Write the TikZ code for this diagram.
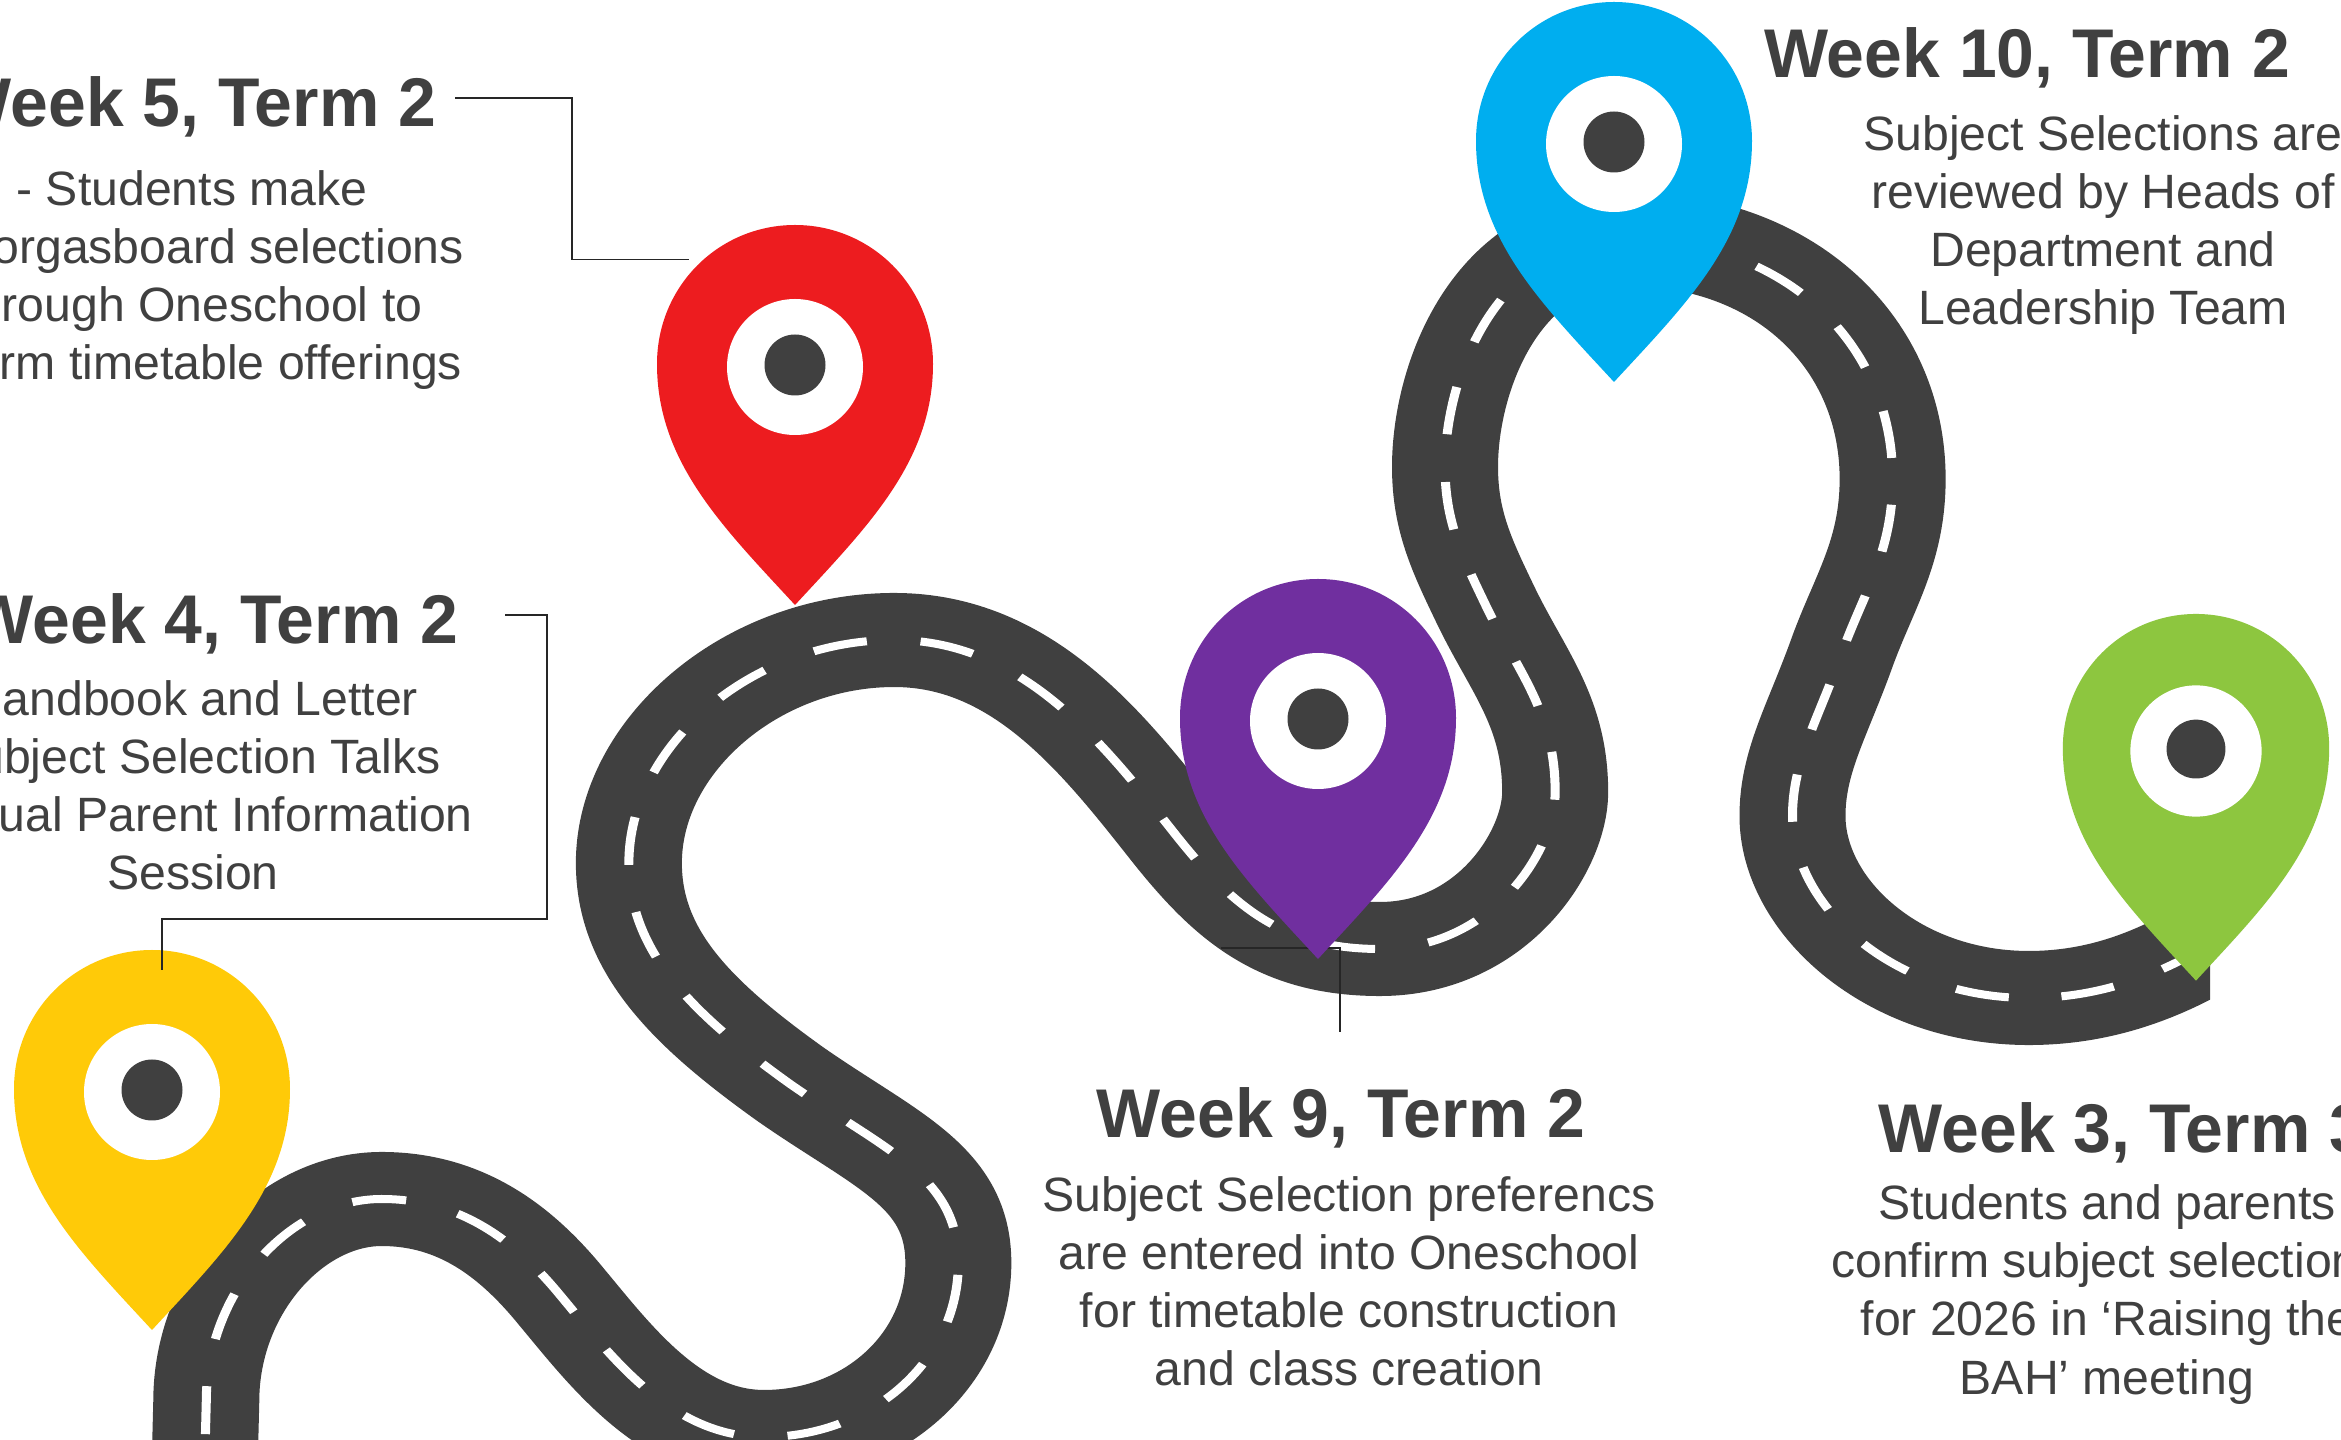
\documentclass[tikz,border=0pt]{standalone}
\usepackage{fontspec}
\newfontfamily\bodyf{Liberation Sans}
\newfontfamily\titlef[FakeStretch=0.985]{Liberation Sans Bold}
\definecolor{ink}{HTML}{404040}
\definecolor{pinred}{HTML}{ED1C1F}
\definecolor{pinyellow}{HTML}{FFCA08}
\definecolor{pinpurple}{HTML}{702F9F}
\definecolor{pinblue}{HTML}{00AEEF}
\definecolor{pingreen}{HTML}{8DC63F}
\tikzset{
  titletext/.style={text=ink,anchor=base,inner sep=0pt,font=\titlef\fontsize{19.6pt}{23pt}\selectfont},
  bodytext/.style={text=ink,anchor=base,inner sep=0pt,align=center,font=\bodyf\fontsize{13.7pt}{16.5pt}\selectfont},
  leader/.style={draw=black!85,line width=0.015cm},
  roadline/.style={draw=ink,line width=0.94cm,line join=round},
  dashline/.style={draw=white,line width=0.08cm}
}
\newcommand{\spineA}{(204,1480) -- (206,1400)
  .. controls (206,1290) and (290,1198) .. (381,1198)
  .. controls (460,1198) and (515,1240) .. (560,1295)
  .. controls (610,1355) and (670,1436) .. (763,1436)
  .. controls (870,1436) and (957,1360) .. (957,1262)
  .. controls (957,1175) and (885,1150) .. (789,1083)
  .. controls (690,1012) and (628,950) .. (628,862)
  .. controls (628,745) and (750,639) .. (893,639)
  .. controls (1020,639) and (1100,740) .. (1171,830)
  .. controls (1230,905) and (1280,948) .. (1378,948)
  .. controls (1490,948) and (1553,850) .. (1553,791)
  .. controls (1553,710) and (1515,670) .. (1483,603)
  .. controls (1460,555) and (1443,520) .. (1443,466)
  .. controls (1443,375) and (1495,238) .. (1625,238)}
\newcommand{\spineB}{(1625,238)
  .. controls (1780,238) and (1890,340) .. (1890,478)
  .. controls (1890,550) and (1862,590) .. (1840,650)
  .. controls (1815,720) and (1790,760) .. (1790,815)
  .. controls (1790,905) and (1890,997) .. (2026,997)
  .. controls (2110,997) and (2180,965) .. (2250,915)}
% #1 name, #2 centre of the white disc, #3 colour, #4 scale
\newcommand{\mappin}[4]{%
  \begin{scope}[shift={#2},scale=#4]
    \fill[#3] (0,238) .. controls (-72,160) and (-138,95) .. (-138,-3)
      .. controls (-138,-81) and (-76,-142) .. (0,-142)
      .. controls (76,-142) and (138,-81) .. (138,-3)
      .. controls (138,95) and (72,160) .. (0,238) -- cycle;
    \fill[white] (0,0) circle [radius=68];
    \fill[ink] (0,-2) circle [radius=30.5];
    \coordinate (#1) at (0,0);
  \end{scope}}
\begin{document}
\begin{tikzpicture}[x=0.01cm,y=-0.01cm]
\useasboundingbox (0,0) rectangle (2341,1440);
\fill[white] (0,0) rectangle (2341,1440);
\clip (0,0) rectangle (2341,1440);
\begin{scope}[yshift=-0.01cm]
% road
\begin{scope}
  \clip (0,0) rectangle (2210,1440);
  \begin{scope}[transform canvas={xscale=1.127},x=0.008873cm]
    \draw[roadline] \spineA -- \spineB;
    \draw[dashline,dash pattern=on 0.48cm off 0.478cm,dash phase=0.49cm] \spineA;
    \draw[dashline,dash pattern=on 0.475cm off 0.468cm,dash phase=0.696cm] \spineB;
  \end{scope}
\end{scope}
% leader of week 9 runs beneath the purple pin
\coordinate (l9a) at (1221,947);
\coordinate (l9b) at (1340,947);
\coordinate (l9c) at (1340,1031);
\draw[leader] (l9a) -- (l9b) -- (l9c);
% pins
\mappin{pinR}{(795,366)}{pinred}{1}
\mappin{pinY}{(152,1091)}{pinyellow}{1}
\mappin{pinP}{(1318,720)}{pinpurple}{1}
\mappin{pinB}{(1614,143)}{pinblue}{1}
\mappin{pinG}{(2196,750)}{pingreen}{0.965}
% leaders
\coordinate (l5a) at (455,97);
\coordinate (l5b) at (572,97);
\coordinate (l5c) at (572,258.5);
\coordinate (l5d) at (689,258.5);
\draw[leader] (l5a) -- (l5b) -- (l5c) -- (l5d);
\coordinate (l4a) at (505,614);
\coordinate (l4b) at (547,614);
\coordinate (l4c) at (547,918);
\coordinate (l4d) at (162,918);
\coordinate (l4e) at (162,969);
\draw[leader] (l4a) -- (l4b) -- (l4c) -- (l4d) -- (l4e);
% texts (bodies are placed by the baseline of their last line)
\node[titletext] (t5) at (192,126) {Week 5, Term 2};
\node[bodytext] (b5) at (192,379) {- Students make\\Smorgasboard selections\\through Oneschool to\\inform timetable offerings};
\node[titletext] (t4) at (214,643) {Week 4, Term 2};
\node[bodytext] (b4) at (193,889) {Handbook and Letter\\Subject Selection Talks\\Annual Parent Information\\Session};
\node[titletext] (t9) at (1341,1137) {Week 9, Term 2};
\node[bodytext] (b9) at (1349,1385) {Subject Selection preferencs\\are entered into Oneschool\\for timetable construction\\and class creation};
\node[titletext] (t3) at (2123,1152) {Week 3, Term 3};
\node[bodytext] (b3) at (2107,1393) {Students and parents\\confirm subject selections\\for 2026 in ‘Raising the\\BAH’ meeting};
\node[titletext] (t10) at (2027,77) {Week 10, Term 2};
\node[bodytext] (b10) at (2103,324) {Subject Selections are\\reviewed by Heads of\\Department and\\Leadership Team};
\end{scope}
\end{tikzpicture}
\end{document}
